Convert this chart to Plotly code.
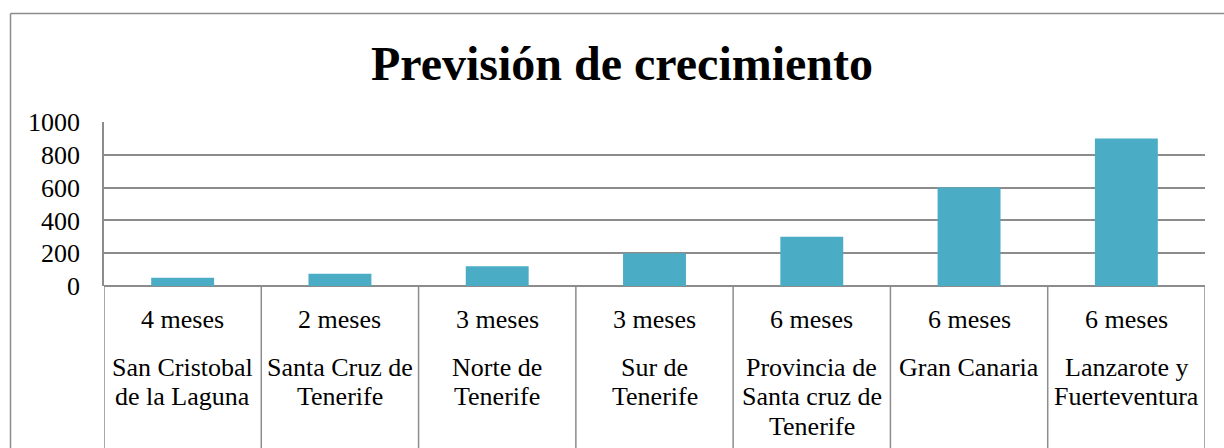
import plotly.graph_objects as go

categories = ["San Cristobal<br>de la Laguna", "Santa Cruz de<br>Tenerife", "Norte de<br>Tenerife",
              "Sur de<br>Tenerife", "Provincia de<br>Santa cruz de<br>Tenerife", "Gran Canaria",
              "Lanzarote y<br>Fuerteventura"]
durations = ["4 meses", "2 meses", "3 meses", "3 meses", "6 meses", "6 meses", "6 meses"]
values = [50, 75, 120, 200, 300, 600, 900]
y_ticks = [0, 200, 400, 600, 800, 1000]

W, H = 1224, 448
L, R, T, B = 104, 19, 122, 162
plot_w = W - L - R
plot_h = H - T - B

def px_to_paper_x(px):
    return (px - L) / plot_w

def px_to_paper_y(py):
    return (H - B - py) / plot_h

FONT = "Liberation Serif, Times New Roman, serif"
GRID = "#8c8c8c"
FS = 26

fig = go.Figure()
fig.add_trace(go.Bar(x=categories, y=values, marker=dict(color="#4BACC6", line=dict(width=0)),
                     hoverinfo="y"))

annotations = []
for c, d in zip(categories, durations):
    annotations.append(dict(x=c, xref="x", y=px_to_paper_y(319), yref="paper", text=d,
                            showarrow=False, yanchor="middle", xanchor="center",
                            font=dict(family=FONT, size=FS, color="black")))
    for k, line in enumerate(c.split("<br>")):
        annotations.append(dict(x=c, xref="x", y=px_to_paper_y(367 + 29.5 * k), yref="paper",
                                text=line, showarrow=False, yanchor="middle", xanchor="center",
                                font=dict(family=FONT, size=FS, color="black")))

shapes = []
for i in range(len(categories) + 1):
    shapes.append(dict(type="line", xref="x", yref="paper", x0=i - 0.5, x1=i - 0.5,
                       y0=0, y1=px_to_paper_y(H + 5), line=dict(color=GRID, width=1.5)))
# outer chart border (top and left)
shapes.append(dict(type="line", xref="paper", yref="paper",
                   x0=px_to_paper_x(10.5), x1=px_to_paper_x(W + 5),
                   y0=px_to_paper_y(13.5), y1=px_to_paper_y(13.5), line=dict(color=GRID, width=1.5)))
shapes.append(dict(type="line", xref="paper", yref="paper",
                   x0=px_to_paper_x(10.5), x1=px_to_paper_x(10.5),
                   y0=px_to_paper_y(13.5), y1=px_to_paper_y(H + 5), line=dict(color=GRID, width=1.5)))

fig.update_layout(
    width=W, height=H,
    margin=dict(l=L, r=R, t=T, b=B, pad=0),
    paper_bgcolor="white", plot_bgcolor="white",
    bargap=0.6,
    showlegend=False,
    title=dict(text="<b>Previsión de crecimiento</b>", x=622 / W, xref="container", xanchor="center",
               y=1 - 63 / H, yref="container", yanchor="middle",
               font=dict(family=FONT, size=48, color="black")),
    xaxis=dict(type="category", showticklabels=False, showgrid=False, zeroline=False,
               showline=False, ticks="", range=[-0.5, len(categories) - 0.5]),
    yaxis=dict(range=[0, 1000], tickvals=y_ticks, showgrid=True, gridcolor=GRID, gridwidth=1.5,
               zeroline=True, zerolinecolor=GRID, zerolinewidth=1.5,
               showline=True, linecolor=GRID, linewidth=1.5, ticks="",
               ticklabelstandoff=17,
               tickfont=dict(family=FONT, size=FS, color="black")),
    annotations=annotations,
    shapes=shapes,
)

fig.write_html("out.html", config={"displayModeBar": False},
               post_script="document.body.style.margin='0';document.body.style.overflow='hidden';")
